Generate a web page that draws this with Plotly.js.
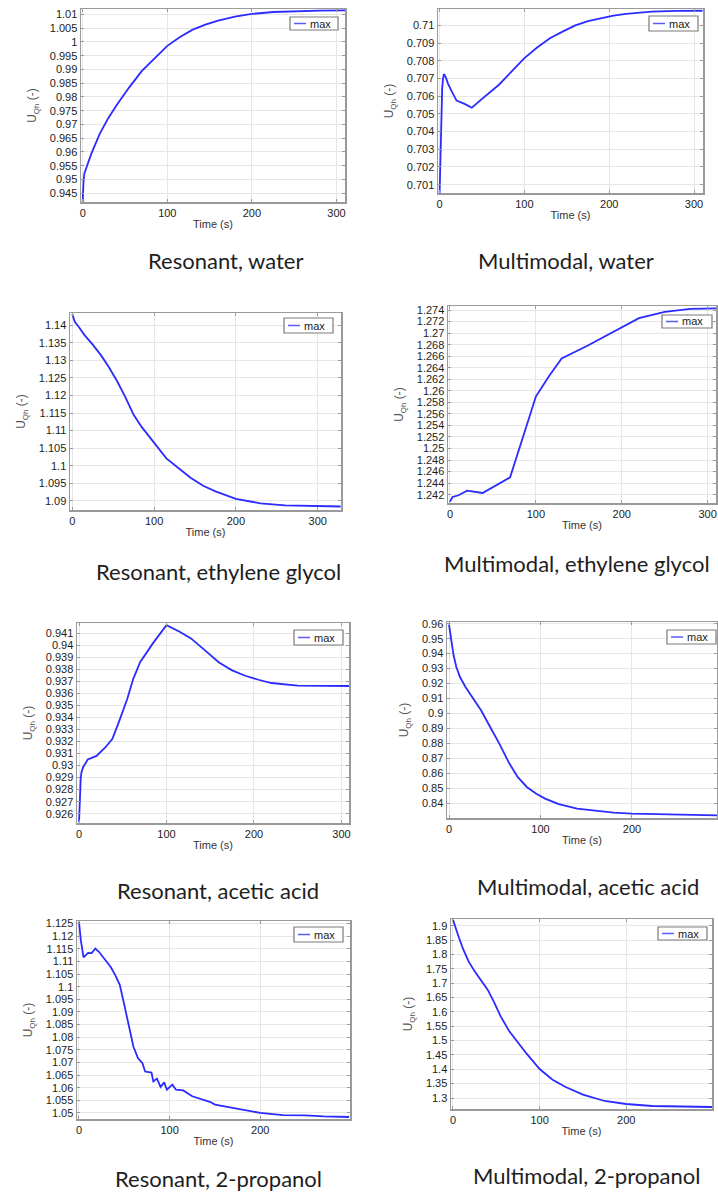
<!DOCTYPE html>
<html>
<head>
<meta charset="utf-8">
<script src="https://cdn.plot.ly/plotly-3.0.1.min.js"></script>
<style>html,body{margin:0;padding:0;background:#fff;}#chart{width:718px;height:1194px;}</style>
</head>
<body>
<div id="chart"></div>
<script>
// ---------- data ----------
const tResWater = [0, 0.5, 1, 2, 5, 10, 20, 30, 40, 55, 70, 85, 100, 115, 130, 145, 160, 180, 200, 225, 250, 280, 310];
const uResWater = [0.9418, 0.9475, 0.9495, 0.9522, 0.9547, 0.9592, 0.9665, 0.9722, 0.977, 0.9835, 0.9895, 0.9942, 0.9986, 1.0018, 1.0045, 1.0063, 1.0078, 1.0092, 1.0102, 1.0109, 1.0112, 1.0114, 1.0115];

const tMulWater = [0, 1, 2, 3, 4, 5, 7, 10, 14, 20, 30, 38, 50, 60, 70, 85, 100, 115, 130, 145, 160, 175, 190, 205, 220, 250, 280, 310];
const uMulWater = [0.7005, 0.7030, 0.7052, 0.7064, 0.7070, 0.70725, 0.7071, 0.70670, 0.7063, 0.70575, 0.70555, 0.70535, 0.70585, 0.70625, 0.70665, 0.7074, 0.70815, 0.70875, 0.70928, 0.70965, 0.71000, 0.71025, 0.71042, 0.71055, 0.71065, 0.71078, 0.71082, 0.71083];

const tResEG = [0, 3, 8, 15, 25, 35, 45, 55, 65, 75, 85, 100, 115, 130, 145, 160, 175, 200, 230, 260, 300, 328];
const uResEG = [1.1432, 1.1410, 1.1395, 1.1372, 1.1345, 1.1315, 1.1280, 1.1240, 1.1195, 1.1145, 1.1110, 1.1064, 1.1021, 1.0993, 1.0965, 1.0943, 1.0927, 1.0906, 1.0893, 1.0887, 1.0885, 1.0884];

const tMulEG = [0, 3, 10, 20, 38, 55, 70, 85, 100, 115, 130, 160, 190, 220, 250, 280, 310];
const uMulEG = [1.2408, 1.2416, 1.2419, 1.2427, 1.2423, 1.2437, 1.2450, 1.2520, 1.2590, 1.2625, 1.2656, 1.2678, 1.2702, 1.2726, 1.2737, 1.2742, 1.2743];

const tResAcetic = [0, 1, 2, 3, 5, 10, 20, 30, 38, 45, 55, 62, 70, 85, 100, 115, 128, 145, 160, 175, 190, 205, 220, 250, 280, 310];
const uResAcetic = [0.9253, 0.9275, 0.9290, 0.9295, 0.9299, 0.9305, 0.9308, 0.9315, 0.9322, 0.9335, 0.9355, 0.9372, 0.9386, 0.9402, 0.94165, 0.9411, 0.94055, 0.9395, 0.93855, 0.9379, 0.93745, 0.93712, 0.93685, 0.93664, 0.9366, 0.9366];

const tMulAcetic = [0, 2, 5, 8, 12, 18, 25, 35, 45, 55, 65, 75, 85, 95, 105, 120, 140, 160, 180, 200, 240, 293];
const uMulAcetic = [0.9593, 0.9500, 0.9389, 0.9311, 0.9244, 0.9178, 0.9111, 0.9022, 0.8911, 0.8800, 0.8678, 0.8578, 0.8511, 0.8467, 0.8433, 0.8396, 0.8367, 0.8351, 0.8340, 0.8333, 0.8327, 0.8322];

const tResProp = [0, 2, 5, 8, 10, 14, 18, 22, 28, 35, 40, 45, 50, 55, 60, 65, 70, 73, 80, 82, 86, 90, 94, 97, 103, 107, 115, 125, 135, 145, 150, 175, 200, 225, 250, 270, 298];
const uResProp = [1.1257, 1.1184, 1.1116, 1.1125, 1.1134, 1.1133, 1.1151, 1.1138, 1.1112, 1.1078, 1.1046, 1.1007, 1.0928, 1.0849, 1.0763, 1.0717, 1.0697, 1.0664, 1.0660, 1.0625, 1.0636, 1.0603, 1.0621, 1.0592, 1.0612, 1.0592, 1.0589, 1.0566, 1.0553, 1.0543, 1.0533, 1.0516, 1.0500, 1.0491, 1.0490, 1.0486, 1.0484];

const tMulProp = [0, 3, 7, 12, 18, 25, 32, 40, 47, 55, 65, 75, 85, 100, 115, 130, 150, 175, 200, 230, 260, 299];
const uMulProp = [1.9209, 1.8918, 1.8570, 1.8164, 1.7758, 1.7410, 1.7120, 1.6772, 1.6365, 1.5843, 1.5321, 1.4915, 1.4543, 1.4010, 1.3638, 1.3383, 1.3116, 1.2896, 1.2791, 1.2721, 1.2698, 1.2687];

const captions = ['Resonant, water', 'Multimodal, water', 'Resonant, ethylene glycol', 'Multimodal, ethylene glycol',
                  'Resonant, acetic acid', 'Multimodal, acetic acid', 'Resonant, 2-propanol', 'Multimodal, 2-propanol'];
const seriesName = 'max';
const xTitle = 'Time (s)';
const yTitle = 'U<span style="font-size:8px;baseline-shift:-3px">Qh</span> (-)';

// ---------- layout (pixel boxes) ----------
const W = 718, H = 1194;
const panels = [
  {t: tResWater,  u: uResWater,  box: [81, 345, 9, 202],    xr: [-2, 310],     yr: [0.9418, 1.0120],   dy: 0.005, leg: [290, 338, 17, 30],  cap: [225, 260]},
  {t: tMulWater,  u: uMulWater,  box: [438, 703, 9, 193],   xr: [-1.9, 310.6], yr: [0.70053, 0.71093], dy: 0.001, leg: [649, 698, 16, 31],  cap: [566, 260]},
  {t: tResEG,     u: uResEG,     box: [70, 341, 313, 510],  xr: [-2.8, 328.5], yr: [1.0874, 1.1435],   dy: 0.005, leg: [284, 333, 318, 333], cap: [218, 571]},
  {t: tMulEG,     u: uMulEG,     box: [448, 716, 306, 503], xr: [-2.3, 309.7], yr: [1.24056, 1.2747],  dy: 0.002, leg: [662, 712, 315, 328], cap: [577, 563]},
  {t: tResAcetic, u: uResAcetic, box: [77, 349, 623, 823],  xr: [-2.3, 308.6], yr: [0.92523, 0.94183], dy: 0.001, leg: [294, 343, 630, 645], cap: [218, 890]},
  {t: tMulAcetic, u: uMulAcetic, box: [447, 717, 622, 818], xr: [-2.2, 293],   yr: [0.8304, 0.9611],   dy: 0.01,  leg: [667, 716, 630, 644], cap: [588, 886]},
  {t: tResProp,   u: uResProp,   box: [77, 350, 921, 1119], xr: [-2.2, 299],   yr: [1.0476, 1.1260],   dy: 0.005, leg: [294, 343, 927, 942], cap: [218, 1178]},
  {t: tMulProp,   u: uMulProp,   box: [451, 712, 919, 1109], xr: [-2.3, 299],  yr: [1.2617, 1.9233],   dy: 0.05,  leg: [658, 707, 927, 940], cap: [586, 1175]}
];

const FONT = 'Liberation Sans, Arial, sans-serif';
const tickFont = {family: FONT, size: 11, color: '#1c1c1c'};
const data = [];
const layout = {
  width: W, height: H,
  margin: {l: 0, r: 0, t: 0, b: 0},
  paper_bgcolor: '#fff', plot_bgcolor: '#fff',
  showlegend: false,
  annotations: [], shapes: []
};
const px = v => v / W, py = v => 1 - v / H;

panels.forEach((p, i) => {
  const s = i === 0 ? '' : String(i + 1);
  const [L, R, T, B] = p.box;
  data.push({
    x: p.t, y: p.u, type: 'scatter', mode: 'lines', name: seriesName,
    xaxis: 'x' + s, yaxis: 'y' + s,
    line: {color: '#2b2bff', width: 1.8}
  });
  const common = {
    showline: true, mirror: 'allticks', linecolor: '#9a9a9a', linewidth: 1.5,
    ticks: 'inside', ticklen: 3, tickcolor: '#9a9a9a', tickwidth: 1,
    showgrid: true, gridcolor: '#e6e6e6', gridwidth: 1, zeroline: false,
    tickfont: tickFont, fixedrange: true
  };
  layout['xaxis' + s] = Object.assign({}, common, {
    domain: [px(L), px(R)], range: p.xr, anchor: 'y' + s,
    tick0: 0, dtick: 100,
    title: {text: xTitle, font: {family: FONT, size: 11, color: '#333'}, standoff: 2}
  });
  layout['yaxis' + s] = Object.assign({}, common, {
    domain: [py(B), py(T)], range: p.yr, anchor: 'x' + s,
    tick0: 0, dtick: p.dy,
    title: {text: yTitle, font: {family: FONT, size: 12, color: '#555'}, standoff: 10}
  });
  // legend box (drawn like the COMSOL legend)
  const [lx0, lx1, ly0, ly1] = p.leg;
  const ym = (ly0 + ly1) / 2;
  layout.shapes.push({type: 'rect', xref: 'paper', yref: 'paper', x0: px(lx0), x1: px(lx1), y0: py(ly1), y1: py(ly0),
    line: {color: '#7a7a7a', width: 1.2}, fillcolor: '#fff', layer: 'above'});
  layout.shapes.push({type: 'line', xref: 'paper', yref: 'paper', x0: px(lx0 + 4), x1: px(lx0 + 16), y0: py(ym), y1: py(ym),
    line: {color: '#5a5aff', width: 1.5}, layer: 'above'});
  layout.annotations.push({text: seriesName, xref: 'paper', yref: 'paper', x: px(lx0 + 18), y: py(ym),
    xanchor: 'left', yanchor: 'middle', showarrow: false, font: {family: FONT, size: 11, color: '#222'}});
  // caption below the panel
  layout.annotations.push({
    text: captions[i], xref: 'paper', yref: 'paper',
    x: px(p.cap[0]), y: py(p.cap[1]), xanchor: 'center', yanchor: 'middle',
    showarrow: false, font: {family: 'Lato, Carlito, Calibri, sans-serif', size: 22, color: '#1e1e1e'}
  });
});

Plotly.newPlot('chart', data, layout, {staticPlot: true, displayModeBar: false});
</script>
</body>
</html>
